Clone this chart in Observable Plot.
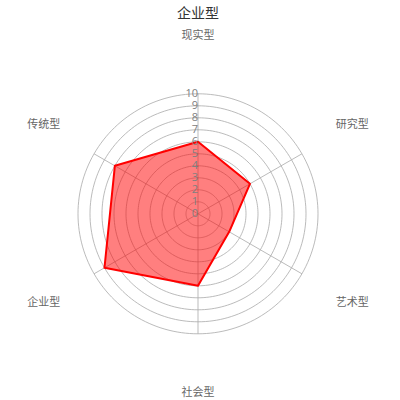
<!DOCTYPE html>
<html>
<head>
<meta charset="utf-8">
<script src="https://cdn.jsdelivr.net/npm/d3@7"></script>
<script src="https://cdn.jsdelivr.net/npm/@observablehq/plot@0.6"></script>
<style>
html,body{margin:0;padding:0;background:#fff;}
</style>
</head>
<body>
<div id="chart"></div>
<script>
const title = "企业型";
const categories = ["现实型", "研究型", "艺术型", "社会型", "企业型", "传统型"];
const values = [6, 5, 3, 6, 9, 8];
const ticks = [0, 1, 2, 3, 4, 5, 6, 7, 8, 9, 10];
const maxValue = 10;

const n = categories.length;
const ang = i => (i * 2 * Math.PI) / n;
const px = (i, r) => Math.sin(ang(i)) * r;
const py = (i, r) => Math.cos(ang(i)) * r;

// rings
const ringPts = [];
ticks.filter(t => t > 0).forEach(t => {
  for (let k = 0; k <= 180; k++) {
    const a = (k / 180) * 2 * Math.PI;
    ringPts.push({ring: t, x: Math.sin(a) * t, y: Math.cos(a) * t});
  }
});
// spokes
const spokes = categories.map((c, i) => ({x1: 0, y1: 0, x2: px(i, maxValue), y2: py(i, maxValue)}));
// polygon
const poly = values.map((v, i) => ({x: px(i, v), y: py(i, v)}));
poly.push(poly[0]);
// labels
const labelR = 14.85;
const labels = categories.map((c, i) => ({text: c, x: px(i, labelR), y: py(i, labelR)}));

const unit = 12, cx = 197.5, cy = 213.3;
const chart = Plot.plot({
  width: 400,
  height: 400,
  margin: 0,
  x: {domain: [-cx / unit, (400 - cx) / unit], axis: null},
  y: {domain: [-(400 - cy) / unit, cy / unit], axis: null},
  style: {fontFamily: "'Open Sans', 'Noto Sans CJK SC', sans-serif", background: "#fff"},
  marks: [
    Plot.line(ringPts, {x: "x", y: "y", z: "ring", stroke: "#aaa", strokeWidth: 0.8}),
    Plot.link(spokes, {x1: "x1", y1: "y1", x2: "x2", y2: "y2", stroke: "#aaa", strokeWidth: 0.8}),
    Plot.line(poly, {x: "x", y: "y", fill: "red", fillOpacity: 0.5, stroke: "red", strokeWidth: 2, curve: "linear"}),
    Plot.text(ticks, {x: 0, y: d => d, text: d => String(d), textAnchor: "end", dx: 0, fill: "#808080", fontSize: 11}),
    Plot.text(labels, {x: "x", y: "y", text: "text", fill: "#666", fontSize: 11, fontFamily: "'Noto Sans CJK SC', sans-serif"}),
    Plot.text([title], {x: 0, y: cy / unit, text: d => d, dy: 13, fill: "#333", fontSize: 14, fontWeight: "normal", fontFamily: "'Noto Sans CJK SC', sans-serif"})
  ]
});
document.getElementById("chart").appendChild(chart);
</script>
</body>
</html>
